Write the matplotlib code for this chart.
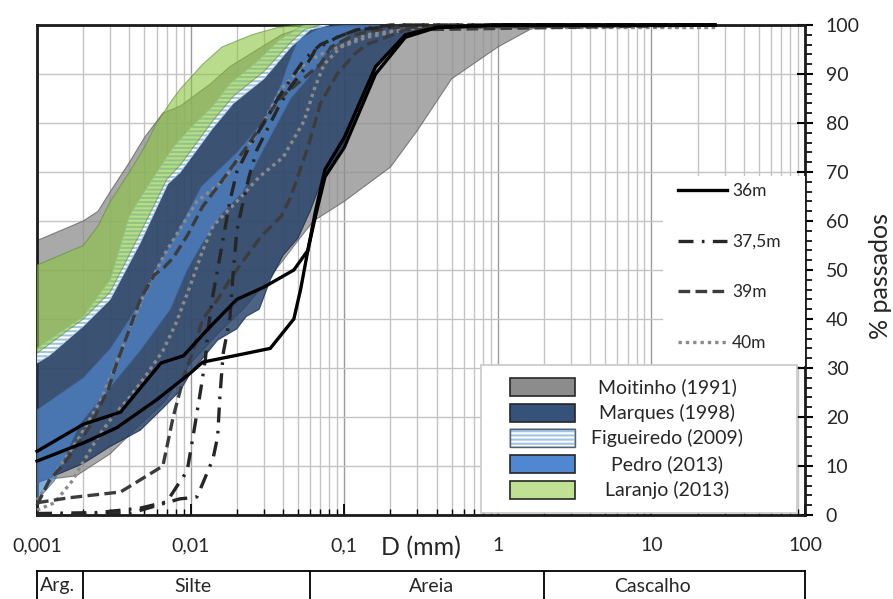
import matplotlib
matplotlib.use("Agg")
import matplotlib.pyplot as plt
from matplotlib.patches import Rectangle
from matplotlib.lines import Line2D
from matplotlib.ticker import LogLocator, MultipleLocator, NullFormatter
from matplotlib.transforms import blended_transform_factory

plt.rcParams['font.family'] = ['Lato', 'DejaVu Sans']
plt.rcParams['hatch.linewidth'] = 1.5

# envelopes of the literature (D in mm, % passing)
moit_up_d = [0.001, 0.002, 0.0025, 0.003, 0.004, 0.005, 0.0066, 0.0086, 0.0135, 0.018, 0.039, 0.06, 2]
moit_up_p = [56, 60, 62, 66, 72, 77, 82, 83.5, 88, 91.5, 98, 100, 100]
moit_lo_d = [0.001, 0.0018, 0.003, 0.0047, 0.0067, 0.01, 0.015, 0.022, 0.03, 0.04, 0.05, 0.063, 0.1, 0.2, 0.3, 0.5, 1, 1.6, 2]
moit_lo_p = [7, 8, 12.5, 18.5, 23, 31, 37, 42, 47, 52, 56, 60, 64, 71, 78.5, 89, 95.5, 99, 100]

marq_up_d = [0.001, 0.0012, 0.002, 0.003, 0.0047, 0.0071, 0.0086, 0.014, 0.019, 0.03, 0.045, 0.06, 0.08]
marq_up_p = [32.5, 34, 40, 45.5, 57, 69, 71.5, 80.5, 85.5, 90.5, 97, 100, 100]
marq_lo_d = [0.001, 0.002, 0.003, 0.0047, 0.0067, 0.0086, 0.01, 0.015, 0.02, 0.023, 0.028, 0.033, 0.04, 0.05, 0.06, 0.071, 0.1, 0.157, 0.25, 0.35]
marq_lo_p = [6.5, 10.5, 14, 17.3, 22, 25.5, 29, 35.7, 38, 40.5, 42, 48, 53, 56.5, 62, 68, 76, 91, 98, 100]

fig_up_d = [0.001, 0.002, 0.003, 0.004, 0.005, 0.0077, 0.01, 0.014, 0.018, 0.026, 0.038, 0.055]
fig_up_p = [34, 40.5, 48, 61, 66, 75, 79, 83.5, 88, 92, 97, 100]
fig_lo_d = [0.001, 0.0012, 0.002, 0.003, 0.0047, 0.0071, 0.0086, 0.014, 0.019, 0.03, 0.045, 0.06, 0.08]
fig_lo_p = [31, 32.5, 38.5, 44, 55.5, 67.5, 70, 79, 84, 89, 95.5, 99, 100]

ped_up_d = [0.001, 0.002, 0.003, 0.004, 0.0052, 0.006, 0.0077, 0.0117, 0.02, 0.03, 0.039, 0.043, 0.05, 0.07, 0.1]
ped_up_p = [21.5, 28, 34, 40, 46, 50.5, 56, 67, 74, 80.5, 88, 92, 97, 99.5, 100]
ped_lo_d = [0.001, 0.0013, 0.0019, 0.0029, 0.0047, 0.0074, 0.0095, 0.0117, 0.016, 0.022, 0.027, 0.045, 0.058, 0.08, 0.12, 0.2]
ped_lo_p = [3, 7, 18.5, 25.5, 33.5, 42, 50, 55, 61.5, 66, 72, 85, 89, 95, 99, 100]

lar_up_d = [0.001, 0.002, 0.0025, 0.003, 0.004, 0.005, 0.006, 0.0077, 0.0086, 0.012, 0.016, 0.025, 0.037, 0.05]
lar_up_p = [51, 55, 59, 64, 70, 75, 80, 85, 87, 92, 95.5, 98, 99.5, 100]
lar_lo_d = [0.001, 0.002, 0.003, 0.0047, 0.007, 0.0086, 0.014, 0.019, 0.03, 0.045, 0.055, 0.07]
lar_lo_p = [33, 40, 45.5, 57.5, 68.5, 71.5, 80.5, 85.5, 90.5, 96.5, 99, 100]

# grading curves of the samples
s36a_d = [0.001, 0.002, 0.0035, 0.0064, 0.009, 0.013, 0.02, 0.03, 0.047, 0.058, 0.065, 0.075, 0.1, 0.16, 0.25, 0.4, 1, 26]
s36a_p = [13, 18.5, 21, 31, 32.5, 38, 44, 46.5, 50, 54, 62, 70.5, 77, 91.5, 98, 99.5, 100, 100]
s36b_d = [0.001, 0.002, 0.0033, 0.006, 0.01, 0.012, 0.02, 0.033, 0.047, 0.052, 0.058, 0.065, 0.075, 0.1, 0.16, 0.25, 0.4, 1, 26]
s36b_p = [11, 14.7, 17.8, 23.5, 29, 31.2, 32.6, 34, 40, 46, 54, 61, 69, 75, 90, 97.5, 99.5, 100, 100]

s375a_d = [0.001, 0.0025, 0.0047, 0.007, 0.0082, 0.0095, 0.0105, 0.0117, 0.0125, 0.013, 0.014, 0.016, 0.018, 0.02, 0.024, 0.03, 0.037, 0.045, 0.055, 0.07, 0.09, 0.12, 0.2, 26]
s375a_p = [0.3, 0.5, 1.4, 2.7, 6, 9, 17, 26, 32, 38, 45, 55, 64, 70, 75, 80, 85, 89, 93, 96, 97.5, 99, 100, 100]
s375b_d = [0.001, 0.004, 0.0085, 0.01, 0.011, 0.0122, 0.014, 0.015, 0.0155, 0.0163, 0.018, 0.019, 0.02, 0.022, 0.024, 0.027, 0.037, 0.045, 0.055, 0.065, 0.09, 0.12, 0.25, 26]
s375b_p = [0, 0.3, 3.3, 3.5, 3.7, 7, 11.5, 16, 24, 33, 40, 50, 58, 64, 69, 74.5, 83, 87.5, 91, 95, 97.5, 99, 100, 100]

s39a_d = [0.001, 0.0012, 0.0015, 0.0018, 0.0022, 0.0029, 0.0033, 0.0039, 0.0047, 0.0058, 0.0067, 0.0077, 0.0095, 0.012, 0.015, 0.023, 0.038, 0.07, 0.082, 0.116, 0.2, 26]
s39a_p = [2, 7, 10.5, 14, 18, 25.5, 31, 37, 44, 49, 50.5, 52.5, 57, 63, 67, 75, 85, 92, 95.5, 98, 99.5, 100]
s39b_d = [0.001, 0.0016, 0.0035, 0.0066, 0.0077, 0.009, 0.0105, 0.012, 0.015, 0.018, 0.021, 0.029, 0.039, 0.045, 0.058, 0.07, 0.09, 0.116, 0.14, 0.25, 26]
s39b_p = [2.5, 3.5, 4.7, 10, 20, 28, 34, 40, 44, 48, 51, 57, 61, 65, 75, 84, 90, 94, 96, 99, 100]

s40a_d = [0.001, 0.0019, 0.0026, 0.003, 0.0039, 0.0049, 0.006, 0.007, 0.011, 0.016, 0.028, 0.039, 0.055, 0.07, 0.1, 0.14, 0.3, 26]
s40a_p = [3, 16, 23.5, 28, 37, 44.5, 50, 54, 64, 68, 78.5, 87, 92, 94, 96, 98, 99.5, 99.5]
s40b_d = [0.001, 0.0013, 0.0017, 0.0025, 0.0031, 0.004, 0.005, 0.0066, 0.008, 0.01, 0.012, 0.014, 0.02, 0.028, 0.04, 0.055, 0.064, 0.074, 0.095, 0.14, 0.3, 26]
s40b_p = [1, 2.5, 7, 16, 20, 24, 28, 33.5, 39, 47, 54, 59, 64, 69, 73, 80.5, 87, 92, 95.5, 97.5, 99.5, 99.5]

band_names = ['Moitinho (1991)', 'Marques (1998)', 'Figueiredo (2009)', 'Pedro (2013)', 'Laranjo (2013)']
depth_names = ['36m', '37,5m', '39m', '40m']
xticks = [0.001, 0.01, 0.1, 1, 10, 100]
xtick_labels = ['0,001', '0,01', '0,1', '1', '10', '100']
soil_limits = [0.002, 0.06, 2]
soil_names = ['Arg.', 'Silte', 'Areia', 'Cascalho']
soil_pos = [0.00105, 0.0103, 0.37, 10.1]

W, H = 893, 599
fig = plt.figure(figsize=(W / 100, H / 100), dpi=100)
ax = fig.add_axes([37 / W, 1 - 515 / H, 768 / W, 490 / H])
ax.set_xscale('log')
ax.set_xlim(0.001, 100)
ax.set_ylim(0, 100)


def band(d_up, p_up, d_lo, p_lo, **kw):
    xs = list(d_up) + list(d_lo)[::-1]
    ys = list(p_up) + list(p_lo)[::-1]
    ax.fill(xs, ys, **kw)


band(moit_up_d, moit_up_p, moit_lo_d, moit_lo_p, facecolor='#8c8c8c', edgecolor='#606060', lw=0.8, alpha=0.75, zorder=2)
band(marq_up_d, marq_up_p, marq_lo_d, marq_lo_p, facecolor='#213c66', edgecolor='#1a2c48', lw=0.8, alpha=0.8, zorder=3)
band(ped_up_d, ped_up_p, ped_lo_d, ped_lo_p, facecolor='#4f86cc', edgecolor='#3a5f90', lw=0.6, alpha=0.7, zorder=4)
band(fig_up_d, fig_up_p, fig_lo_d, fig_lo_p, facecolor='white', edgecolor='#9dc3e6', hatch='----', lw=0.5, zorder=5)
band(lar_up_d, lar_up_p, lar_lo_d, lar_lo_p, facecolor='#8ac53f', edgecolor='#5f8a35', lw=0.8, alpha=0.6, zorder=6)

lw = 2.4
st40 = dict(color='#8a8a8a', lw=lw, dashes=(1.0, 1.2), zorder=7, clip_on=False)
st39 = dict(color='#3c3c3c', lw=lw, dashes=(3.5, 1.6), zorder=7, clip_on=False)
st375 = dict(color='#262626', lw=lw, dashes=(4.5, 2.5, 0.8, 2.5), zorder=7, clip_on=False)
st36 = dict(color='black', lw=lw, zorder=8, clip_on=False, solid_joinstyle='miter')
ax.plot(s40a_d, s40a_p, **st40)
ax.plot(s40b_d, s40b_p, **st40)
ax.plot(s39a_d, s39a_p, **st39)
ax.plot(s39b_d, s39b_p, **st39)
ax.plot(s375a_d, s375a_p, **st375)
ax.plot(s375b_d, s375b_p, **st375)
ax.plot(s36a_d, s36a_p, **st36)
ax.plot(s36b_d, s36b_p, **st36)

# axes, ticks, grid
ax.set_axisbelow(True)
ax.set_xticks(xticks)
ax.set_xticklabels(xtick_labels)
ax.xaxis.set_minor_locator(LogLocator(base=10, subs=range(2, 10)))
ax.xaxis.set_minor_formatter(NullFormatter())
ax.grid(True, which='minor', axis='x', color='#c4c4c4', lw=1)
ax.grid(True, which='major', axis='x', color='#9a9a9a', lw=1)
ax.grid(True, which='major', axis='y', color='#c4c4c4', lw=1)
ax.yaxis.tick_right()
ax.set_yticks(range(0, 101, 10))
ax.yaxis.set_minor_locator(MultipleLocator(2))
ax.tick_params(axis='x', which='major', direction='in', length=8, width=1.3, pad=16, labelsize=14, colors='black', labelcolor='#262626')
ax.tick_params(axis='x', which='minor', direction='in', length=4, width=1.0)
ax.tick_params(axis='y', which='major', direction='inout', length=12, width=1.5, pad=9, labelsize=14, labelcolor='#262626')
ax.tick_params(axis='y', which='minor', direction='out', length=5, width=1.2)
for s in ax.spines.values():
    s.set_linewidth(2)
    s.set_color('#1a1a1a')

fig.text(881 / W, 1 - 276 / H, '% passados', rotation=90, ha='center', va='center', fontsize=18, color='#262626')
fig.text(421 / W, 1 - 548 / H, 'D (mm)', ha='center', va='center', fontsize=18, color='#262626')

# depth legend on a white box
ax.add_patch(Rectangle(((663 - 37) / 768, (515 - 366) / 490), (805 - 663) / 768, (366 - 176) / 490,
                       transform=ax.transAxes, facecolor='white', edgecolor='none', zorder=9))
handles = [Line2D([], [], **{k: v for k, v in st.items() if k not in ('zorder', 'clip_on')})
           for st in (st36, st375, st39, st40)]
leg = ax.legend(handles, depth_names, loc='center left', bbox_to_anchor=((678 - 37) / 768, (515 - 267) / 490),
                frameon=False, fontsize=12.5, handlelength=2.8, handletextpad=0.3, labelspacing=2.0,
                borderpad=0, borderaxespad=0)
leg.set_zorder(10)
for t in leg.get_texts():
    t.set_color('#262626')

# envelope legend drawn as a box
band_face = ['#8c8c8c', '#35527a', 'white', '#4f88d0', '#c0e094']
band_hatch = [None, None, '----', None, None]
band_edge = ['#262626', '#262626', '#9dc3e6', '#262626', '#262626']
ax.add_patch(Rectangle(((481 - 37) / 768, (515 - 513) / 490), (797 - 481) / 768, (513 - 365) / 490,
                       transform=ax.transAxes, facecolor='white', edgecolor='#c8c8c8', lw=1.2, zorder=9))
row_y = [387, 413, 438, 464, 490]
for name, fc, hh, ec, yy in zip(band_names, band_face, band_hatch, band_edge, row_y):
    ax.add_patch(Rectangle(((510 - 37) / 768, (515 - yy - 9) / 490), 65 / 768, 18 / 490,
                           transform=ax.transAxes, facecolor=fc, edgecolor=ec, hatch=hh, lw=1.2, zorder=10))
    if hh:
        ax.add_patch(Rectangle(((510 - 37) / 768, (515 - yy - 9) / 490), 65 / 768, 18 / 490,
                               transform=ax.transAxes, facecolor='none', edgecolor='#606060', lw=1.0, zorder=10))
    ax.text((667 - 37) / 768, (515 - yy) / 490, name, transform=ax.transAxes, ha='center', va='center',
            fontsize=14, color='#262626', zorder=11)

# soil classes strip
tab = fig.add_axes([37 / W, -0.05, 768 / W, (599 - 571) / H + 0.05])
tab.set_xscale('log')
tab.set_xlim(0.001, 100)
tab.set_ylim(0, 1)
tab.set_xticks([])
tab.set_yticks([])
tab.minorticks_off()
for s in tab.spines.values():
    s.set_linewidth(1.3)
for v in soil_limits:
    tab.axvline(v, color='black', lw=1.3)
tr = blended_transform_factory(tab.transData, fig.transFigure)
for name, pos in zip(soil_names, soil_pos):
    tab.text(pos, 1 - 586 / H, name, transform=tr, ha='left' if name == 'Arg.' else 'center',
             va='center', fontsize=14, color='#262626')

fig.savefig('out.png', dpi=100)
